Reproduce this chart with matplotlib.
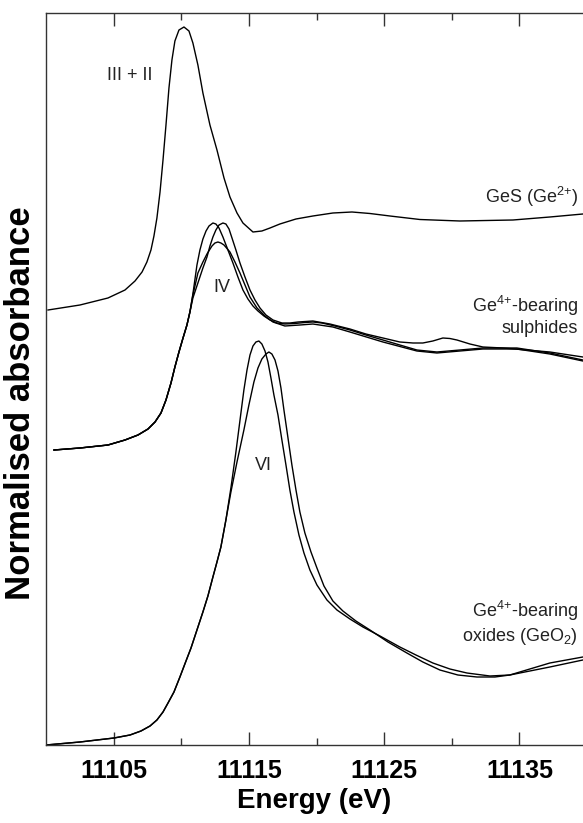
import numpy as np
import matplotlib
matplotlib.use("Agg")
import matplotlib.pyplot as plt

plt.rcParams['font.family'] = ['Liberation Sans', 'DejaVu Sans']
plt.rcParams['mathtext.fontset'] = 'custom'
plt.rcParams['mathtext.rm'] = 'Liberation Sans'
plt.rcParams['mathtext.it'] = 'Liberation Sans:italic'
plt.rcParams['mathtext.bf'] = 'Liberation Sans:bold'

# GeS (Ge2+) spectrum, stacked on top
ges_e = [11100.15, 11102.51, 11104.58, 11105.84, 11106.58, 11107.10, 11107.46, 11107.76,
         11107.98, 11108.20, 11108.43, 11108.65, 11108.87, 11109.09, 11109.31, 11109.53,
         11109.83, 11110.20, 11110.57, 11110.86, 11111.23, 11111.60, 11112.12, 11112.64,
         11113.16, 11113.60, 11114.12, 11114.56, 11115.30, 11115.96, 11116.56, 11117.29,
         11118.48, 11119.73, 11121.21, 11122.62, 11123.95, 11125.43, 11127.64, 11130.60,
         11134.52, 11137.25, 11139.69]
ges_a = [4.35, 4.40, 4.47, 4.55, 4.64, 4.73, 4.83, 4.95,
         5.09, 5.27, 5.53, 5.85, 6.20, 6.57, 6.85, 7.04,
         7.15, 7.18, 7.14, 7.02, 6.80, 6.52, 6.20, 5.95,
         5.67, 5.48, 5.32, 5.22, 5.13, 5.14, 5.17, 5.21,
         5.26, 5.29, 5.32, 5.33, 5.315, 5.29, 5.255, 5.24,
         5.25, 5.28, 5.31]

# Ge4+-bearing sulphides (three spectra, shared pre-edge)
sulf_pre_e = [11100.59, 11102.51, 11104.58, 11105.84, 11106.80, 11107.54, 11108.06, 11108.50,
              11108.87, 11109.24, 11109.53, 11109.83, 11110.13, 11110.42, 11110.64]
sulf_pre_a = [2.95, 2.97, 3.00, 3.05, 3.10, 3.16, 3.23, 3.32,
              3.45, 3.62, 3.78, 3.93, 4.07, 4.20, 4.33]

sulf1_e = [11110.86, 11111.16, 11111.38, 11111.60, 11111.83, 11112.05, 11112.34, 11112.56,
           11112.79, 11113.08, 11113.45, 11113.82, 11114.19, 11114.56, 11114.93, 11115.30,
           11115.67, 11116.11, 11116.56, 11117.07, 11117.66, 11118.40, 11119.14, 11119.73,
           11120.40, 11121.36, 11122.47, 11123.65, 11124.91, 11126.16, 11127.42, 11128.90,
           11130.60, 11132.30, 11134.81, 11137.25, 11139.69]
sulf1_a = [4.51, 4.80, 4.95, 5.06, 5.14, 5.19, 5.22, 5.21,
           5.17, 5.08, 4.95, 4.82, 4.68, 4.55, 4.46, 4.39,
           4.34, 4.29, 4.25, 4.22, 4.21, 4.215, 4.225, 4.23,
           4.22, 4.19, 4.15, 4.10, 4.05, 4.00, 3.95, 3.93,
           3.95, 3.97, 3.97, 3.92, 3.85]

sulf2_e = [11110.86, 11111.23, 11111.60, 11111.90, 11112.12, 11112.34, 11112.56, 11112.79,
           11113.08, 11113.30, 11113.53, 11113.75, 11114.04, 11114.34, 11114.71, 11115.08,
           11115.45, 11115.82, 11116.26, 11116.78, 11117.44, 11118.03, 11118.63, 11119.73,
           11120.99, 11122.47, 11123.65, 11124.91, 11126.16, 11127.13, 11127.86, 11128.60,
           11129.34, 11129.86, 11130.38, 11131.34, 11132.30, 11133.78, 11137.25, 11139.69]
sulf2_a = [4.47, 4.62, 4.77, 4.88, 4.99, 5.08, 5.15, 5.20,
           5.22, 5.21, 5.16, 5.07, 4.95, 4.82, 4.68, 4.55,
           4.45, 4.37, 4.30, 4.25, 4.22, 4.22, 4.23, 4.24,
           4.21, 4.16, 4.11, 4.07, 4.03, 4.02, 4.02, 4.04,
           4.07, 4.065, 4.05, 4.01, 3.98, 3.97, 3.93, 3.88]

sulf3_e = [11110.86, 11111.23, 11111.60, 11111.90, 11112.27, 11112.49, 11112.71, 11112.93,
           11113.16, 11113.60, 11113.97, 11114.34, 11114.71, 11115.08, 11115.60, 11116.19,
           11116.78, 11117.66, 11118.77, 11119.73, 11121.21, 11122.47, 11124.91, 11127.42,
           11128.90, 11130.60, 11132.30, 11134.81, 11137.25, 11139.69]
sulf3_a = [4.50, 4.72, 4.83, 4.91, 4.99, 5.02, 5.03, 5.02,
           5.00, 4.93, 4.83, 4.72, 4.60, 4.48, 4.37, 4.29,
           4.23, 4.19, 4.20, 4.21, 4.18, 4.13, 4.03, 3.94,
           3.92, 3.94, 3.96, 3.96, 3.91, 3.84]

# Ge4+-bearing oxides (two spectra, shared pre-edge)
ox_pre_e = [11100.00, 11102.51, 11105.03, 11106.21, 11107.02, 11107.69, 11108.20, 11108.65,
            11109.02, 11109.46, 11109.90, 11110.35, 11110.72, 11111.16, 11111.60, 11111.97,
            11112.34, 11112.64, 11112.93, 11113.30]
ox_pre_a = [0.00, 0.03, 0.07, 0.10, 0.14, 0.19, 0.25, 0.33,
            0.42, 0.53, 0.68, 0.84, 0.97, 1.15, 1.33, 1.49,
            1.68, 1.83, 1.98, 2.25]

ox1_e = [11113.67, 11114.04, 11114.41, 11114.63, 11114.86, 11115.08, 11115.30, 11115.52,
         11115.74, 11115.96, 11116.19, 11116.41, 11116.63, 11116.85, 11117.15, 11117.44,
         11117.74, 11118.03, 11118.33, 11118.70, 11119.07, 11119.51, 11120.03, 11120.77,
         11121.51, 11122.47, 11123.43, 11124.69, 11126.16, 11127.35, 11128.60, 11129.86,
         11131.12, 11132.82, 11134.29, 11135.77, 11137.25, 11139.69]
ox1_a = [2.57, 2.93, 3.32, 3.55, 3.75, 3.90, 3.99, 4.03,
         4.04, 4.01, 3.94, 3.83, 3.67, 3.50, 3.30, 3.05,
         2.80, 2.55, 2.33, 2.10, 1.92, 1.75, 1.60, 1.45,
         1.35, 1.26, 1.18, 1.09, 0.98, 0.90, 0.82, 0.76,
         0.72, 0.69, 0.70, 0.74, 0.78, 0.85]

ox2_e = [11113.67, 11114.12, 11114.63, 11115.00, 11115.37, 11115.67, 11115.96, 11116.26,
         11116.48, 11116.70, 11116.93, 11117.15, 11117.37, 11117.59, 11117.89, 11118.18,
         11118.48, 11118.77, 11119.14, 11119.59, 11120.03, 11120.55, 11121.21, 11121.95,
         11122.91, 11123.95, 11125.28, 11126.68, 11127.86, 11129.12, 11130.45, 11131.86,
         11133.19, 11134.29, 11135.77, 11137.25, 11139.69]
ox2_a = [2.53, 2.83, 3.15, 3.40, 3.63, 3.77, 3.86, 3.91,
         3.93, 3.91, 3.85, 3.74, 3.57, 3.35, 3.07, 2.80,
         2.55, 2.33, 2.12, 1.93, 1.77, 1.59, 1.44, 1.34,
         1.24, 1.15, 1.03, 0.92, 0.83, 0.75, 0.70, 0.68,
         0.68, 0.70, 0.76, 0.82, 0.88]

fig = plt.figure(figsize=(5.83, 8.23), dpi=100)
ax = fig.add_axes([46 / 583, 78 / 823, 1 - 46 / 583, 732 / 823])

lw = 1.0
ax.plot(ges_e, ges_a, color='black', lw=lw)
for e, a in [(sulf1_e, sulf1_a), (sulf2_e, sulf2_a), (sulf3_e, sulf3_a)]:
    ax.plot(sulf_pre_e + e, sulf_pre_a + a, color='black', lw=lw)
for e, a in [(ox1_e, ox1_a), (ox2_e, ox2_a)]:
    ax.plot(ox_pre_e + e, ox_pre_a + a, color='black', lw=lw)

ax.set_xlim(11100, 11139.7)
ax.set_ylim(0, 7.32)

ax.set_xticks([11105, 11115, 11125, 11135])
ax.set_xticks([11110, 11120, 11130], minor=True)
ax.set_yticks([])
ax.tick_params(axis='x', which='both', direction='in', top=True, bottom=True,
               color='#333333', width=1.0)
ax.tick_params(axis='x', which='major', length=9.5, labelsize=18, pad=10)
ax.tick_params(axis='x', which='minor', length=5)
for lab in ax.get_xticklabels():
    lab.set_fontweight('bold')
ax.spines['right'].set_visible(False)
for s in ['left', 'top', 'bottom']:
    ax.spines[s].set_color('#333333')
    ax.spines[s].set_linewidth(1.0)

ax.set_xlabel('Energy (eV)', fontsize=20, fontweight='bold', labelpad=4)
ax.set_ylabel('Normalised absorbance', fontsize=25, fontweight='bold')
ax.yaxis.set_label_coords(-0.016, 0.467)

tc = '#222222'
fs = 13
ax.text(11106.2, 6.70, 'III + II', fontsize=fs, color=tc, ha='center', va='center')
ax.text(11113.0, 4.57, 'IV', fontsize=fs, color=tc, ha='center', va='center')
ax.text(11116.1, 2.80, 'VI', fontsize=fs, color=tc, ha='center', va='center')
ax.text(11139.3, 5.48, r'GeS (Ge$^{\rm 2{+}}$)', fontsize=fs, color=tc, ha='right', va='center')
ax.text(11139.3, 4.30, 'Ge$^{\\rm 4{+}}$-bearing\nsulphides', fontsize=fs, color=tc,
        ha='right', va='center', multialignment='right', linespacing=1.15)
ax.text(11139.3, 1.22, 'Ge$^{\\rm 4{+}}$-bearing\noxides (GeO$_{\\rm 2}$)', fontsize=fs, color=tc,
        ha='right', va='center', multialignment='right', linespacing=1.15)

fig.savefig('out.png', dpi=100)
